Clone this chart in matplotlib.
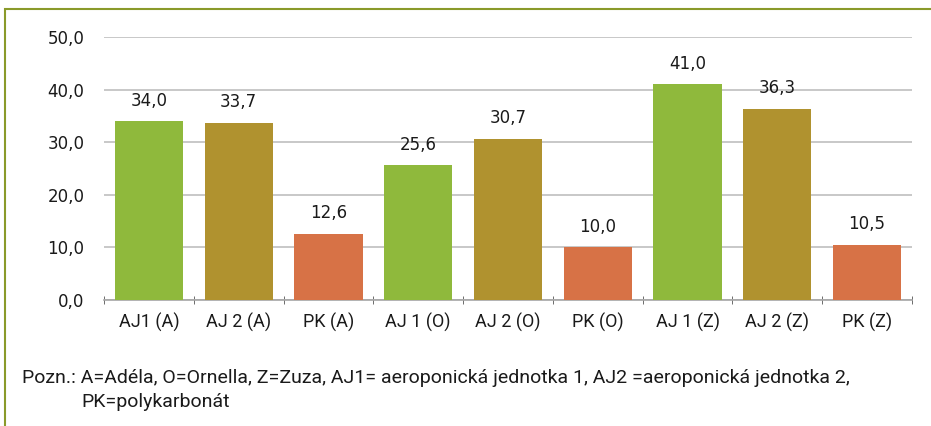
import matplotlib.pyplot as plt
from matplotlib.patches import Rectangle

plt.rcParams['font.family'] = ['Roboto', 'DejaVu Sans']

categories = ['AJ1 (A)', 'AJ 2 (A)', 'PK (A)', 'AJ 1 (O)', 'AJ 2 (O)', 'PK (O)',
              'AJ 1 (Z)', 'AJ 2 (Z)', 'PK (Z)']
values = [34.0, 33.7, 12.6, 25.6, 30.7, 10.0, 41.0, 36.3, 10.5]
bar_colors = ['#8FB93C', '#B0922F', '#D77246'] * 3
yticks = [0, 10, 20, 30, 40, 50]

fig = plt.figure(figsize=(9.31, 4.26), dpi=100)
ax = fig.add_axes([104 / 931, 1 - 300 / 426, 808 / 931, 263 / 426])

x = range(len(categories))
ax.bar(x, values, width=0.76, color=bar_colors, zorder=3)
for xi, v in zip(x, values):
    ax.text(xi, v + 2.2, f'{v:.1f}'.replace('.', ','), ha='center', va='bottom',
            fontsize=12, color='#1a1a1a', family='DejaVu Sans')

ax.set_xlim(-0.5, len(categories) - 0.5)
ax.set_ylim(0, 50)
ax.set_yticks(yticks)
ax.set_yticklabels([f'{t:.1f}'.replace('.', ',') for t in yticks], fontsize=12,
                   color='#1a1a1a', family='DejaVu Sans')
ax.set_xticks(x)
ax.set_xticklabels(categories, fontsize=13, color='#1a1a1a')
ax.set_xticks([i - 0.5 for i in range(len(categories) + 1)], minor=True)
ax.tick_params(axis='x', which='major', length=0, pad=9)
ax.tick_params(axis='x', which='minor', length=6, color='#555555', direction='inout')
ax.tick_params(axis='y', length=0, pad=14)
ax.grid(axis='y', color='#BFBFBF', linewidth=1.2, zorder=0)
for s in ['top', 'right', 'left']:
    ax.spines[s].set_visible(False)
ax.spines['bottom'].set_color('#A6A6A6')
ax.spines['bottom'].set_linewidth(1.2)

fig.text(22 / 931, 1 - 378 / 426, 'Pozn.: A=Adéla, O=Ornella, Z=Zuza, AJ1= aeroponická jednotka 1, '
         'AJ2 =aeroponická jednotka 2,', fontsize=14, va='center', color='#1a1a1a')
fig.text(81 / 931, 1 - 402 / 426, 'PK=polykarbonát', fontsize=14, va='center', color='#1a1a1a')

# outer frame
fig.patches.append(Rectangle((5 / 931, -0.1), 1.1, 1 - 9 / 426 + 0.1, transform=fig.transFigure,
                             fill=False, edgecolor='#8A9A2A', linewidth=1.5, clip_on=True))

fig.savefig('out.png', dpi=100)
